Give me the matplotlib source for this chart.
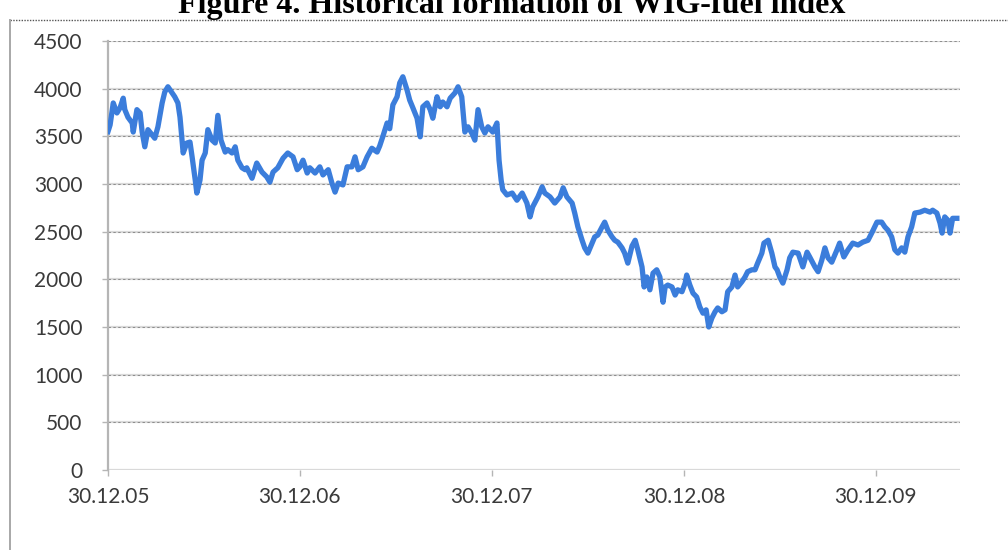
import pandas as pd
import matplotlib.pyplot as plt
import matplotlib.dates as mdates
from matplotlib.lines import Line2D

# days after 30.12.2005 and index level
days = [0, 4, 10, 17, 23, 29, 32, 38, 46, 48, 55, 61, 65, 70, 76, 84, 89, 95, 103, 108,
        114, 122, 127, 133, 137, 143, 150, 156, 160, 166, 169, 175, 179, 185, 190, 198, 204, 209, 215, 223,
        228, 236, 242, 247, 255, 261, 264, 274, 283, 293, 302, 308, 314, 323, 333, 342, 352, 360, 365, 371,
        379, 384, 394, 403, 409, 419, 426, 432, 438, 447, 455, 464, 470, 476, 485, 493, 502, 512, 517, 523,
        531, 536, 542, 550, 555, 561, 569, 574, 580, 588, 594, 599, 607, 613, 618, 626, 632, 637, 645, 651,
        660, 666, 673, 679, 685, 692, 698, 704, 711, 717, 723, 732, 740, 744, 748, 751, 759, 769, 778, 788,
        797, 803, 808, 818, 826, 831, 841, 850, 860, 866, 873, 883, 888, 894, 902, 907, 913, 921, 926, 932,
        940, 945, 951, 959, 964, 970, 978, 983, 989, 997, 1003, 1008, 1016, 1020, 1025, 1031, 1037, 1044, 1050, 1056,
        1060, 1065, 1073, 1079, 1084, 1092, 1098, 1101, 1107, 1113, 1120, 1126, 1132, 1138, 1143, 1149, 1155, 1160, 1168, 1174,
        1179, 1187, 1193, 1198, 1206, 1212, 1217, 1225, 1231, 1236, 1244, 1248, 1256, 1263, 1269, 1273, 1278, 1284, 1292, 1297,
        1303, 1313, 1322, 1330, 1335, 1345, 1351, 1358, 1364, 1370, 1377, 1387, 1392, 1400, 1408, 1417, 1427, 1436, 1446, 1453,
        1463, 1472, 1478, 1484, 1491, 1497, 1503, 1510, 1516, 1522, 1529, 1535, 1545, 1554, 1564, 1569, 1577, 1583, 1587, 1592,
        1598, 1602, 1607, 1615]
values = [3550, 3620, 3850, 3745, 3800, 3900, 3780, 3700, 3640, 3545, 3780, 3745, 3545, 3390, 3570, 3515, 3480, 3600, 3850, 3965,
          4020, 3955, 3915, 3850, 3700, 3325, 3430, 3440, 3285, 3040, 2905, 3040, 3250, 3325, 3570, 3460, 3430, 3720, 3460, 3335,
          3360, 3325, 3390, 3250, 3170, 3150, 3170, 3060, 3220, 3125, 3075, 3020, 3125, 3170, 3270, 3325, 3285, 3150, 3180, 3250,
          3115, 3170, 3115, 3180, 3095, 3150, 3010, 2915, 3010, 2990, 3180, 3180, 3285, 3150, 3180, 3285, 3375, 3335, 3400, 3500,
          3640, 3580, 3830, 3915, 4060, 4125, 3985, 3880, 3800, 3690, 3495, 3810, 3850, 3780, 3690, 3915, 3810, 3860, 3810, 3900,
          3955, 4020, 3915, 3545, 3600, 3535, 3460, 3780, 3600, 3535, 3600, 3545, 3640, 3250, 3040, 2940, 2885, 2905, 2830, 2905,
          2800, 2655, 2760, 2865, 2970, 2905, 2865, 2800, 2865, 2960, 2865, 2800, 2695, 2550, 2410, 2330, 2275, 2380, 2445, 2465,
          2550, 2600, 2515, 2445, 2410, 2390, 2330, 2275, 2170, 2350, 2410, 2310, 2130, 1920, 2025, 1890, 2065, 2100, 2025, 1760,
          1920, 1940, 1920, 1835, 1890, 1870, 1960, 2045, 1940, 1855, 1815, 1710, 1645, 1680, 1500, 1595, 1660, 1700, 1660, 1680,
          1870, 1920, 2045, 1920, 1975, 2025, 2080, 2100, 2100, 2170, 2275, 2380, 2410, 2275, 2130, 2100, 2025, 1960, 2100, 2225,
          2285, 2275, 2130, 2285, 2235, 2130, 2080, 2200, 2330, 2225, 2180, 2310, 2380, 2235, 2310, 2380, 2360, 2390, 2410, 2485,
          2600, 2600, 2550, 2515, 2445, 2310, 2275, 2330, 2285, 2445, 2550, 2695, 2705, 2725, 2705, 2725, 2695, 2590, 2485, 2655,
          2620, 2485, 2640, 2640]
tick_dates = ['2005-12-30', '2006-12-30', '2007-12-30', '2008-12-30', '2009-12-30']
yticks = [0, 500, 1000, 1500, 2000, 2500, 3000, 3500, 4000, 4500]

start = pd.Timestamp('2005-12-30')
dates = start + pd.to_timedelta(days, unit='D')

fig = plt.figure(figsize=(10.08, 5.5), dpi=100)
ax = fig.add_axes([108 / 1008, 1 - 470 / 550, 852 / 1008, 429 / 550])

for y in yticks:
    ax.axhline(y, color='#d9d9d9', lw=1.6, zorder=1)
    ax.axhline(y, color='#8c8c8c', lw=0.7, ls=(0, (2.5, 2.5)), zorder=1)

ax.plot(dates, values, color='#3b7ddb', lw=3.8, solid_joinstyle='round', zorder=3)

ax.set_ylim(0, 4500)
ax.set_xlim(start, start + pd.Timedelta(days=1621))
ax.set_yticks(yticks)
ax.set_xticks(pd.to_datetime(tick_dates))
ax.xaxis.set_major_formatter(mdates.DateFormatter('%d.%m.%y'))

for side in ['top', 'right', 'bottom']:
    ax.spines[side].set_visible(False)
ax.spines['left'].set_color('#b5b5b5')
ax.spines['left'].set_linewidth(1.6)

ax.tick_params(axis='y', direction='out', length=4.5, width=1, color='#b5b5b5', pad=14,
               labelsize=15, labelcolor='#3a3a3a')
ax.tick_params(axis='x', direction='out', length=4, width=1, color='#b5b5b5', pad=8,
               labelsize=15, labelcolor='#3a3a3a')
for lab in ax.get_xticklabels() + ax.get_yticklabels():
    lab.set_family('Lato')

# frame of the pasted chart
fig.add_artist(Line2D([10 / 1008, 1], [1 - 20 / 550, 1 - 20 / 550], color='#555555', lw=1,
                      ls=(0, (1, 1)), transform=fig.transFigure))
fig.add_artist(Line2D([10 / 1008, 10 / 1008], [0, 1 - 20 / 550], color='#a8a8a8', lw=1.4,
                      transform=fig.transFigure))

fig.text(512 / 1008, 1 - 13.5 / 550, 'Figure 4. Historical formation of WIG-fuel index',
         ha='center', va='baseline', fontsize=23, fontweight='bold', family='Liberation Serif')

fig.savefig('out.png', dpi=100)
